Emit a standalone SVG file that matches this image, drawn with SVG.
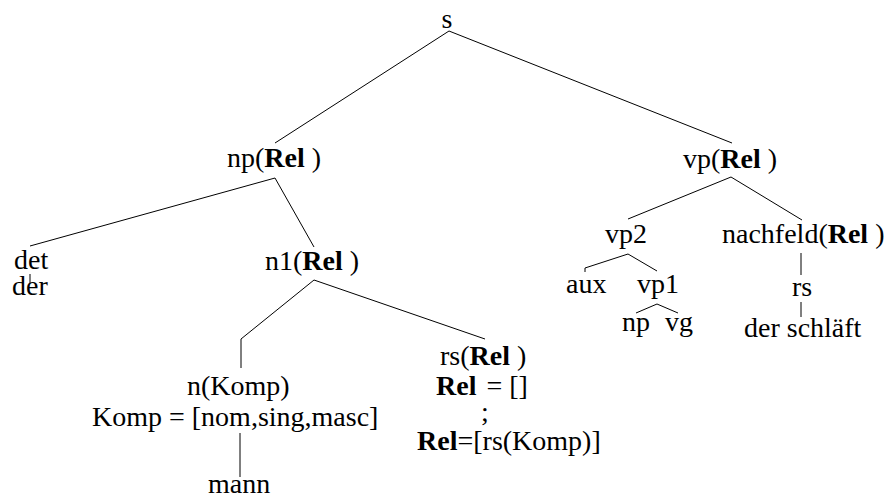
<svg xmlns="http://www.w3.org/2000/svg" width="885" height="498" viewBox="0 0 885 498">
<style>
text { font-family: 'Liberation Serif', 'Tinos', 'Times New Roman', 'DejaVu Serif', serif; font-size: 28px; fill: #000; }
.b { font-weight: bold; }
.e { fill: none; stroke: #000; stroke-width: 1; }
</style>
<rect width="885" height="498" fill="#fff"/>
<g id="connectors">
<line class="e" x1="449" y1="31" x2="275" y2="143"/>
<line class="e" x1="449" y1="31" x2="732" y2="143"/>
<line class="e" x1="275" y1="178" x2="30" y2="246"/>
<line class="e" x1="275" y1="178" x2="314" y2="247"/>
<line class="e" x1="30" y1="274" x2="30" y2="283"/>
<polyline class="e" points="241,368 241,339 314,280 485,339"/>
<line class="e" x1="240" y1="433" x2="240" y2="477"/>
<line class="e" x1="731" y1="177" x2="628" y2="219"/>
<line class="e" x1="731" y1="177" x2="802" y2="220"/>
<polyline class="e" points="585,272 585,268 628,254 657,271"/>
<polyline class="e" points="636,313 657,304 678,313"/>
<line class="e" x1="801" y1="253" x2="801" y2="275"/>
<line class="e" x1="801" y1="302" x2="801" y2="317"/>
</g>
<g font-family="'Liberation Serif', 'Tinos', 'Times New Roman', 'DejaVu Serif', serif" font-size="28">
<g id="s"><text x="447" y="28" text-anchor="middle">s</text></g>
<g id="np"><text x="227" y="167">np(<tspan class="b">Rel</tspan> )</text></g>
<g id="vp"><text x="683" y="168">vp(<tspan class="b">Rel</tspan> )</text></g>
<g id="det"><text x="14" y="269">det</text></g>
<g id="der"><text x="12" y="295">der</text></g>
<g id="n1"><text x="265" y="270">n1(<tspan class="b">Rel</tspan> )</text></g>
<g id="vp2"><text x="605" y="243">vp2</text></g>
<g id="nachfeld"><text x="722" y="243">nachfeld(<tspan class="b">Rel</tspan> )</text></g>
<g id="aux"><text x="566" y="293">aux</text></g>
<g id="vp1"><text x="637" y="293">vp1</text></g>
<g id="rs2"><text x="792" y="296">rs</text></g>
<g id="np2"><text x="622" y="331">np</text></g>
<g id="vg"><text x="665" y="331">vg</text></g>
<g id="derschlaeft"><text x="744" y="337">der schläft</text></g>
<g id="n"><text x="187" y="395">n(Komp)</text><text x="92" y="426">Komp = [nom,sing,masc]</text></g>
<g id="mann"><text x="208" y="493">mann</text></g>
<g id="rs">
<text x="440" y="365">rs(<tspan class="b">Rel</tspan> )</text>
<text x="436" y="395"><tspan class="b">Rel</tspan><tspan dx="10">= []</tspan></text>
<text x="481" y="421">;</text>
<text x="417" y="450"><tspan class="b">Rel</tspan>=[rs(Komp)]</text>
</g>
</g>
</svg>
